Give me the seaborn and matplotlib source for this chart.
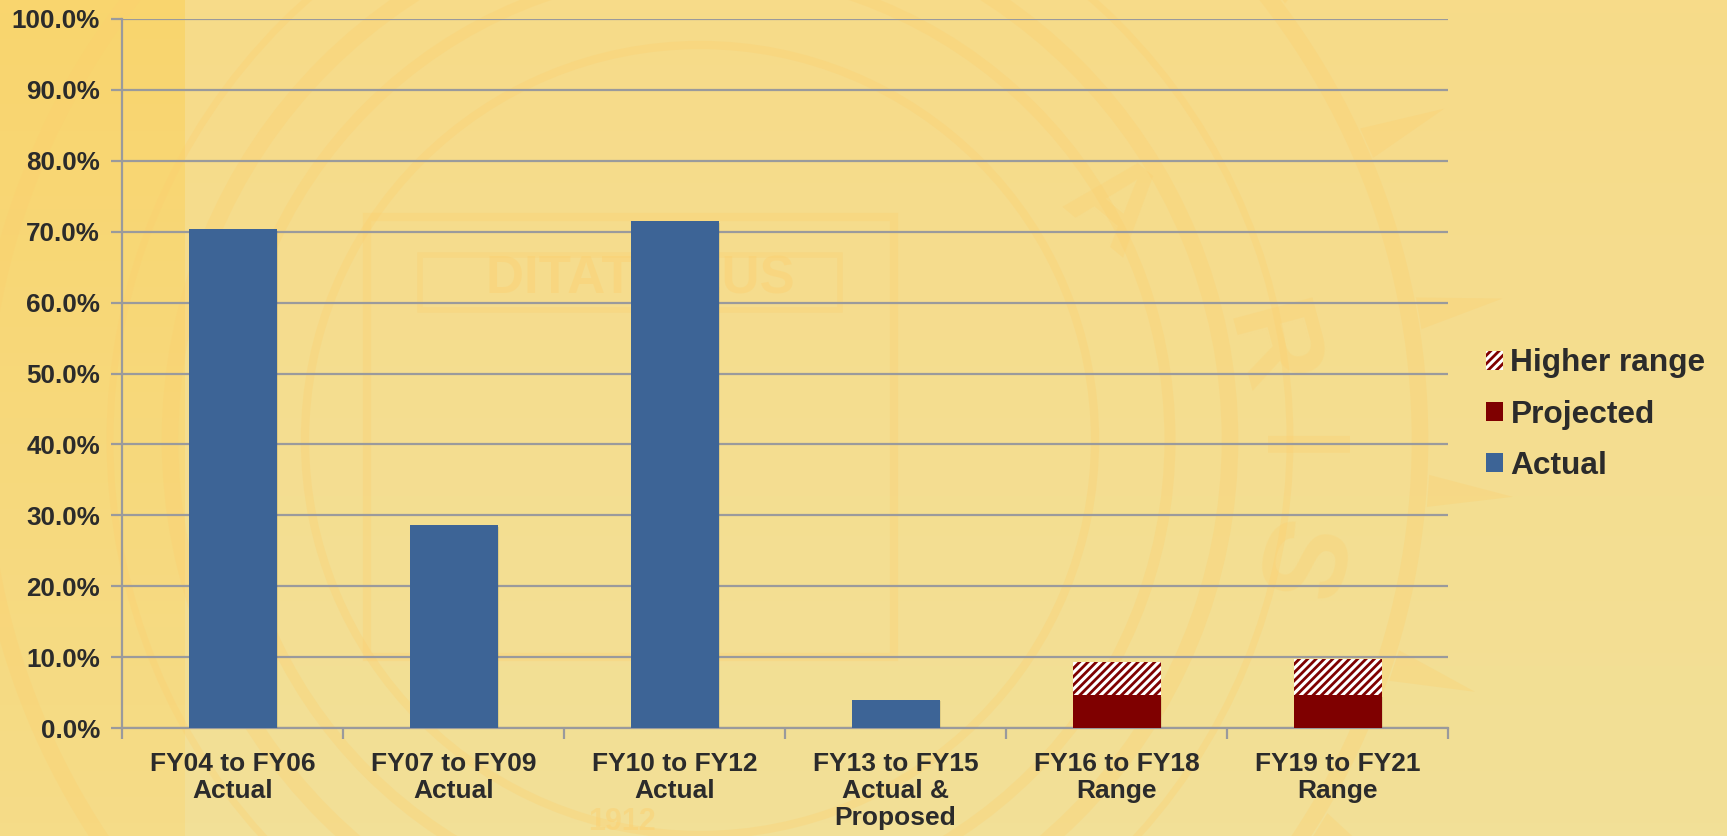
import numpy as np
import pandas as pd
import matplotlib
matplotlib.use("Agg")
import matplotlib.pyplot as plt
import matplotlib.patheffects as pe
from matplotlib.colors import LinearSegmentedColormap
from matplotlib.patches import Circle, Patch, Polygon, Rectangle
import seaborn as sns

# Share of the tuition-related budget by period, in percent
categories = ["FY04 to FY06\nActual", "FY07 to FY09\nActual", "FY10 to FY12\nActual",
              "FY13 to FY15\nActual &\nProposed", "FY16 to FY18\nRange", "FY19 to FY21\nRange"]
actual = [70.4, 28.6, 71.5, 4.0, 0, 0]
projected = [0, 0, 0, 0, 4.6, 4.6]
higher_range = [0, 0, 0, 0, 4.75, 5.1]
y_ticks = [0, 10, 20, 30, 40, 50, 60, 70, 80, 90, 100]

W, H = 1727, 836
SEAL = "#FDCF6E"
BLUE = "#3D6496"
RED = "#7F0000"
GRID = "#9A9A9C"
TEXT = "#2B2B2B"

sns.set_theme(style="white")
plt.rcParams["font.family"] = ["Liberation Sans", "DejaVu Sans"]
plt.rcParams["hatch.linewidth"] = 2.0
plt.rcParams["hatch.color"] = RED

fig = plt.figure(figsize=(W / 100, H / 100), dpi=100, facecolor="#F5DE92")

# Backdrop: soft top-to-bottom wash, a darker strip at the left, pale seal artwork
bg = fig.add_axes([0, 0, 1, 1], zorder=0)
bg.set_xlim(0, W)
bg.set_ylim(H, 0)
bg.axis("off")
wash = LinearSegmentedColormap.from_list("wash", ["#F7DB89", "#F2E097"])
bg.imshow(np.linspace(0, 1, 64)[:, None], cmap=wash, aspect="auto", extent=(0, W, H, 0), zorder=0)
strip = LinearSegmentedColormap.from_list("strip", ["#F9D56E", "#F5DC88"])
bg.imshow(np.linspace(0, 1, 64)[:, None], cmap=strip, aspect="auto", extent=(0, 185, H, 0), zorder=0.5)
bg.set_xlim(0, W)
bg.set_ylim(H, 0)

seal_center = np.array([700.0, 440.0])
for radius, width in [(395, 6), (470, 8), (530, 12), (590, 5), (720, 12)]:
    bg.add_patch(Circle(seal_center, radius, fill=False, ec=SEAL, lw=width, alpha=0.3, zorder=1))
bg.add_patch(Rectangle((367, 217), 527, 440, fill=False, ec=SEAL, lw=6, alpha=0.3, zorder=1))
bg.add_patch(Rectangle((420, 255), 420, 55, fill=False, ec=SEAL, lw=4, alpha=0.3, zorder=1))
bg.text(640, 280, "DITAT DEUS", color=SEAL, alpha=0.4, fontsize=38, fontweight="bold",
        ha="center", va="center", zorder=1)
bg.text(622, 822, "1912", color=SEAL, alpha=0.45, fontsize=22, fontweight="bold",
        ha="center", va="center", zorder=1)
for ch, (cx, cy), rot in [("A", (1110, 210), -40), ("R", (1265, 350), -75), ("I", (1290, 450), -90),
                           ("S", (1290, 560), -105)]:
    bg.text(cx, cy, ch, color=SEAL, alpha=0.3, fontsize=85, fontweight="bold",
            rotation=rot, ha="center", va="center", zorder=1)

# Sun rays around the outer ring of the seal
for deg in range(-80, 100, 14):
    a = np.radians(deg)
    tip = seal_center + 815 * np.array([np.cos(a), np.sin(a)])
    left = seal_center + 730 * np.array([np.cos(a - 0.022), np.sin(a - 0.022)])
    right = seal_center + 730 * np.array([np.cos(a + 0.022), np.sin(a + 0.022)])
    bg.add_patch(Polygon([left, tip, right], closed=True, color=SEAL, alpha=0.3, lw=0, zorder=1))

ax = fig.add_axes([122 / W, 1 - 728 / H, (1448 - 122) / W, (728 - 19) / H], zorder=1)
ax.patch.set_alpha(0)

frame = pd.DataFrame({"period": categories, "actual": actual,
                      "projected": projected, "higher": higher_range})
bar_width = 88 / 221
shadow = [pe.SimplePatchShadow(offset=(1.2, -1.2), shadow_rgbFace="#6b5a30", alpha=0.15), pe.Normal()]

sns.barplot(data=frame, x="period", y="actual", color=BLUE, width=bar_width,
            saturation=1, linewidth=0, ax=ax, zorder=3)
sns.barplot(data=frame, x="period", y="projected", color=RED, width=bar_width,
            saturation=1, linewidth=0, ax=ax, zorder=3)
sns.barplot(data=frame, x="period", y="higher", bottom=frame["projected"], color="white",
            width=bar_width, saturation=1, linewidth=0, ax=ax, zorder=3)
n = len(categories)
for i, bar in enumerate(ax.patches):
    if i >= 2 * n:
        bar.set_facecolor("white")
        bar.set_edgecolor(RED)
        bar.set_hatch("////")
        bar.set_linewidth(0)
    elif bar.get_height() > 0:
        bar.set_path_effects(shadow)

ax.set_xlim(-0.5, n - 0.5)
ax.set_ylim(0, 100)
ax.set_xlabel("")
ax.set_ylabel("")
ax.set_yticks(y_ticks)
ax.set_yticklabels([f"{v:.1f}%" for v in y_ticks], fontsize=18.7, fontweight="bold", color=TEXT)
ax.set_xticks(range(n))
ax.set_xticklabels(categories, fontsize=19, fontweight="bold", color=TEXT, linespacing=1.16)
ax.yaxis.grid(True, color=GRID, lw=1.6, zorder=1)
ax.set_axisbelow(True)
ax.tick_params(axis="y", length=8, width=1.6, color=GRID, pad=8, left=True)
ax.tick_params(axis="x", bottom=False, pad=11)

# Ticks on the category axis sit between the bars
ax.set_xticks(np.arange(-0.5, n), minor=True)
ax.tick_params(axis="x", which="minor", bottom=True, length=8, width=1.6, color=GRID)
for side in ("top", "right"):
    ax.spines[side].set_visible(False)
for side in ("left", "bottom"):
    ax.spines[side].set_color(GRID)
    ax.spines[side].set_linewidth(1.6)

handles = [Patch(facecolor="white", edgecolor=RED, hatch="////", linewidth=0, label="Higher range"),
           Patch(facecolor=RED, linewidth=0, label="Projected"),
           Patch(facecolor=BLUE, linewidth=0, label="Actual")]
leg = fig.legend(handles=handles, loc="center left", bbox_to_anchor=(1486 / W, 1 - 414.5 / H),
                 frameon=False, fontsize=22.8, handlelength=0.55, handleheight=0.55,
                 handletextpad=0.22, labelspacing=0.67, borderpad=0, borderaxespad=0)
for label in leg.get_texts():
    label.set_fontweight("bold")
    label.set_color(TEXT)

fig.savefig("out.png", dpi=100, facecolor=fig.get_facecolor())
